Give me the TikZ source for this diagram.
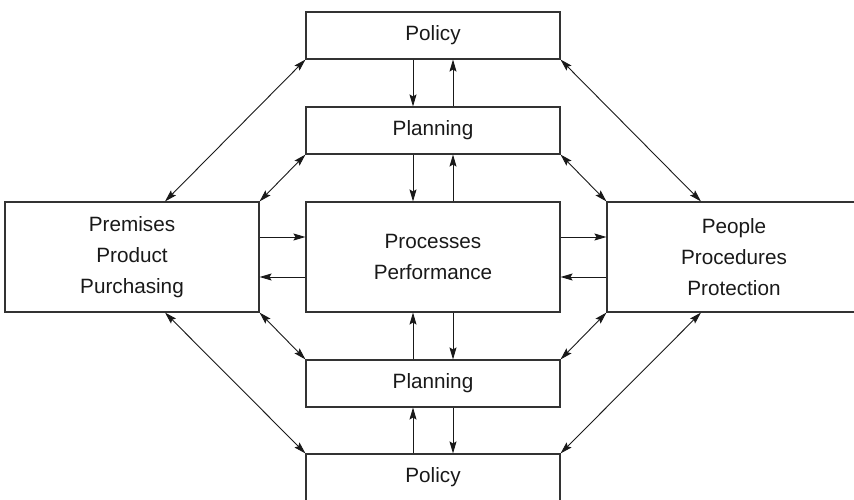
\documentclass[tikz,border=0pt]{standalone}
\usepackage{fontspec}
\setmainfont{Liberation Sans}
\usetikzlibrary{arrows.meta}

\tikzstyle{block}=[draw=black!80,line width=1.1pt,rectangle,minimum width=254pt,inner sep=0pt,align=center,font=\fontsize{20.7}{31}\selectfont,text=black!90]
\tikzstyle{thin}=[block,minimum height=47pt]
\tikzstyle{tall}=[block,minimum height=110pt]
\tikzstyle{edge}=[draw,black!90,line width=0.9pt,-{Stealth[length=12pt,width=7pt,inset=2pt]}]
\tikzstyle{twoway}=[draw,black!90,line width=0.9pt,{Stealth[length=12pt,width=7pt,inset=2pt]}-{Stealth[length=12pt,width=7pt,inset=2pt]}]

\begin{document}
\begin{tikzpicture}[x=1pt,y=-1pt]
    \useasboundingbox (0,0) rectangle (854,500);
    \clip (0,0) rectangle (854,500);
    % First we draw the boxes
    \foreach \pos/\name/\words in {{(433,35.5)/pol1/Policy}, {(433,130.5)/plan1/Planning},
        {(433,383.5)/plan2/Planning}, {(433,477.5)/pol2/Policy}}
        \node[thin] (\name) at \pos {\words};
    \foreach \pos/\name/\words in {{(132,257)/left/Premises\\Product\\Purchasing},
        {(433,257)/proc/Processes\\Performance}, {(734,257)/right/People\\Procedures\\Protection}}
        \node[tall] (\name) at \pos {\words};
    % ends of the long diagonals
    \coordinate (lefttop) at ([xshift=33pt]left.north);
    \coordinate (leftbot) at ([xshift=33pt]left.south);
    \coordinate (righttop) at ([xshift=-33pt]right.north);
    \coordinate (rightbot) at ([xshift=-33pt]right.south);
    % Up and down arrows in the middle column
    \foreach \source/\dest/\dx in {pol1.south/plan1.north/-20, plan1.north/pol1.south/20,
        plan1.south/proc.north/-20, proc.north/plan1.south/20,
        plan2.north/proc.south/-20, proc.south/plan2.north/20,
        pol2.north/plan2.south/-20, plan2.south/pol2.north/20}
        \path[edge] ([xshift=\dx pt]\source) -- ([xshift=\dx pt]\dest);
    % Side arrows
    \foreach \source/\dest/\dy in {left.east/proc.west/20, proc.west/left.east/-20,
        proc.east/right.west/20, right.west/proc.east/-20}
        \path[edge] ([yshift=\dy pt]\source) -- ([yshift=\dy pt]\dest);
    % Diagonals
    \foreach \source/\dest in {pol1.south west/lefttop, pol1.south east/righttop,
        plan1.south west/left.north east, plan1.south east/right.north west,
        plan2.north west/left.south east, plan2.north east/right.south west,
        pol2.north west/leftbot, pol2.north east/rightbot}
        \path[twoway] (\source) -- (\dest);
\end{tikzpicture}
\end{document}
